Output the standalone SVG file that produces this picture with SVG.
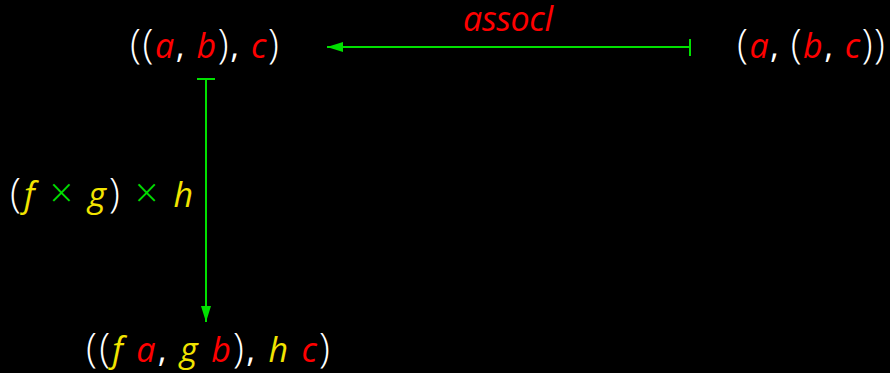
<svg xmlns="http://www.w3.org/2000/svg" width="890" height="373" viewBox="0 0 890 373">
<defs>
<style>
text{font-family:"Open Sans","DejaVu Sans",sans-serif;font-size:34px;fill:#fff}
.p{font-size:40px;font-weight:300}
.v{font-style:italic}
.r{fill:#ff0000}
.y{fill:#f2e400}
.g{fill:#00e000;font-size:40px;font-weight:300}
.ln{stroke:#00e000;stroke-width:2;fill:none}
</style>
<marker id="ah" viewBox="0 0 16 10" refX="16" refY="5" markerWidth="16" markerHeight="10" markerUnits="userSpaceOnUse" orient="auto">
<path d="M0,0 L16,5 L0,10 Z" fill="#00e000"/>
</marker>
</defs>
<rect width="890" height="373" fill="#000"/>
<g id="connectors">
<line class="ln" x1="690" y1="47" x2="327" y2="47" marker-end="url(#ah)"/>
<line class="ln" x1="690" y1="39" x2="690" y2="56"/>
<line class="ln" x1="206" y1="79" x2="206" y2="322" marker-end="url(#ah)"/>
<line class="ln" x1="197" y1="79" x2="215" y2="79"/>
</g>
<g id="n1"><text x="130" y="58" textLength="149" lengthAdjust="spacing"><tspan class="p">((</tspan><tspan class="v r">a</tspan>, <tspan class="v r">b</tspan><tspan class="p">)</tspan>, <tspan class="v r">c</tspan><tspan class="p">)</tspan></text></g>
<g id="n2"><text x="737" y="58" textLength="148" lengthAdjust="spacing"><tspan class="p">(</tspan><tspan class="v r">a</tspan>, <tspan class="p">(</tspan><tspan class="v r">b</tspan>, <tspan class="v r">c</tspan><tspan class="p">))</tspan></text></g>
<g id="n3"><text x="86" y="362" textLength="244" lengthAdjust="spacing"><tspan class="p">((</tspan><tspan class="v y">f</tspan> <tspan class="v r">a</tspan>, <tspan class="v y">g</tspan> <tspan class="v r">b</tspan><tspan class="p">)</tspan>, <tspan class="v y">h</tspan> <tspan class="v r">c</tspan><tspan class="p">)</tspan></text></g>
<g id="lbl1"><text class="v r" x="463" y="31" textLength="90" lengthAdjust="spacing">assocl</text></g>
<g id="lbl2"><text x="10" y="207" textLength="183" lengthAdjust="spacing"><tspan class="p">(</tspan><tspan class="v y">f</tspan> <tspan class="g">×</tspan> <tspan class="v y">g</tspan><tspan class="p">)</tspan> <tspan class="g">×</tspan> <tspan class="v y">h</tspan></text></g>
</svg>
